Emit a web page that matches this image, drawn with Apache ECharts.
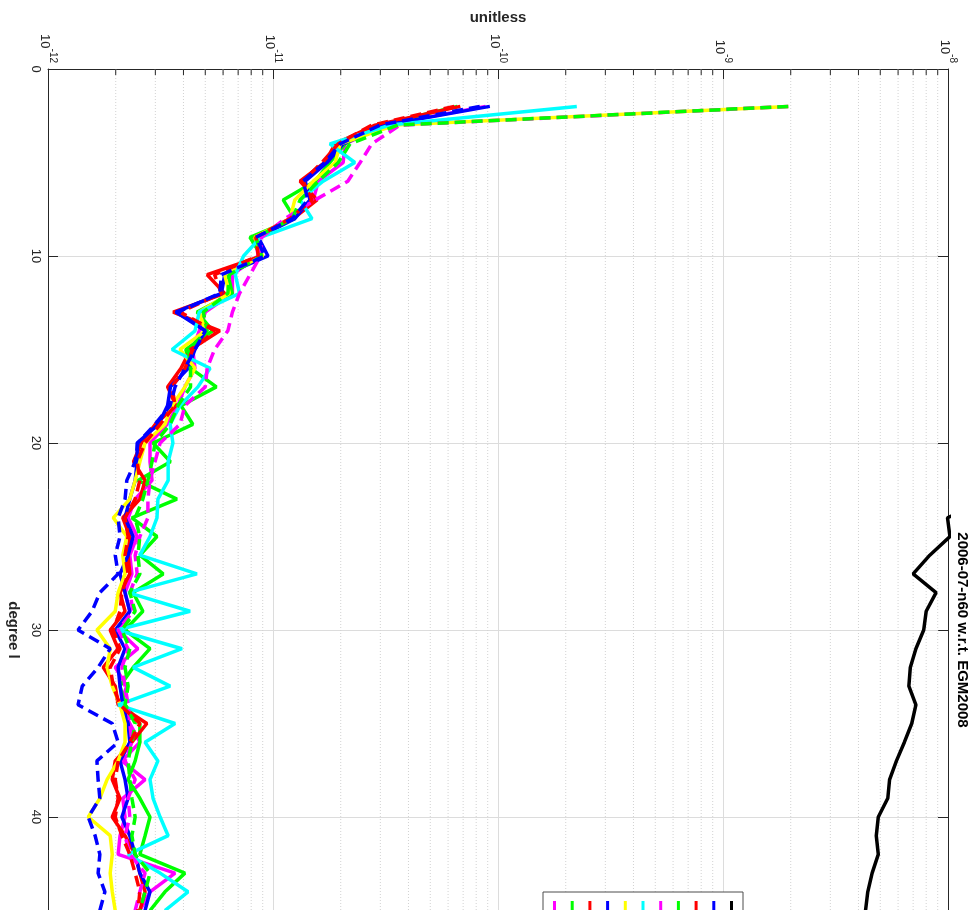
<!DOCTYPE html>
<html><head><meta charset="utf-8">
<script src="https://cdn.jsdelivr.net/npm/echarts@6/dist/echarts.min.js"></script>
<style>html,body{margin:0;padding:0;background:#fff}#c{width:969px;height:910px}</style>
</head><body><div id="c"></div>
<script>
// degree l (vertical axis after rotation)
const degrees = [2,3,4,5,6,7,8,9,10,11,12,13,14,15,16,17,18,19,20,21,22,23,24,25,26,27,28,29,30,31,32,33,34,35,36,37,38,39,40,41,42,43,44,45];

const magentaSolid = [8.8e-11,3.15e-11,2.09e-11,2.05e-11,1.59e-11,1.51e-11,1.19e-11,8.3e-12,8.6e-12,6.6e-12,6.6e-12,5.0e-12,4.7e-12,4.4e-12,4.5e-12,4.06e-12,3.78e-12,3.38e-12,2.84e-12,2.84e-12,2.9e-12,2.44e-12,2.27e-12,2.49e-12,2.31e-12,2.36e-12,2.2e-12,2.31e-12,2.05e-12,2.51e-12,1.99e-12,2.24e-12,2.09e-12,2.31e-12,2.56e-12,2.13e-12,2.7e-12,2.15e-12,2.2e-12,2.09e-12,2.05e-12,3.67e-12,2.84e-12,2.56e-12];
const greenSolid = [6.6e-11,2.99e-11,2.09e-11,1.79e-11,1.54e-11,1.11e-11,1.25e-11,7.9e-12,8.9e-12,6.3e-12,6.6e-12,4.6e-12,5.4e-12,4.1e-12,4.3e-12,5.6e-12,3.9e-12,4.4e-12,2.93e-12,3.5e-12,2.51e-12,3.74e-12,2.36e-12,3.05e-12,2.56e-12,3.25e-12,2.39e-12,2.64e-12,2.2e-12,2.84e-12,2.39e-12,2.09e-12,2.2e-12,2.56e-12,2.56e-12,2.44e-12,2.27e-12,2.56e-12,2.84e-12,2.7e-12,2.56e-12,4.06e-12,3.31e-12,2.84e-12];
const redSolid = [6.8e-11,2.84e-11,1.89e-11,1.70e-11,1.32e-11,1.57e-11,1.23e-11,8.3e-12,8.9e-12,5.1e-12,6.1e-12,3.6e-12,5.8e-12,4.3e-12,3.9e-12,3.4e-12,3.7e-12,3.0e-12,2.6e-12,2.4e-12,2.7e-12,2.56e-12,2.15e-12,2.31e-12,2.27e-12,2.31e-12,2.09e-12,2.2e-12,1.89e-12,2.05e-12,1.76e-12,1.99e-12,2.05e-12,2.75e-12,2.36e-12,1.99e-12,1.93e-12,2.09e-12,1.93e-12,2.2e-12,2.44e-12,2.56e-12,2.7e-12,2.56e-12];
const blueSolid = [9.2e-11,3.15e-11,2.05e-11,1.74e-11,1.39e-11,1.46e-11,1.25e-11,8.6e-12,9.5e-12,6.1e-12,5.9e-12,3.7e-12,5.0e-12,4.5e-12,4.2e-12,3.5e-12,3.4e-12,3.1e-12,2.49e-12,2.49e-12,2.44e-12,2.31e-12,2.2e-12,2.39e-12,2.27e-12,2.09e-12,2.2e-12,2.31e-12,1.99e-12,2.2e-12,2.05e-12,2.09e-12,2.15e-12,2.27e-12,2.31e-12,2.09e-12,2.2e-12,2.27e-12,2.13e-12,2.31e-12,2.44e-12,2.56e-12,2.84e-12,2.7e-12];
const yellowSolid = [1.95e-9,3.49e-11,1.99e-11,1.89e-11,1.51e-11,1.25e-11,1.19e-11,8.3e-12,9.0e-12,6.1e-12,6.4e-12,4.7e-12,5.0e-12,3.86e-12,4.5e-12,4.06e-12,3.56e-12,3.31e-12,2.7e-12,2.56e-12,2.44e-12,2.31e-12,1.95e-12,2.24e-12,2.15e-12,2.2e-12,2.05e-12,1.99e-12,1.65e-12,1.89e-12,1.83e-12,1.93e-12,2.09e-12,2.2e-12,2.2e-12,2.05e-12,1.83e-12,1.7e-12,1.51e-12,1.89e-12,1.93e-12,1.89e-12,1.93e-12,1.99e-12];
const cyanSolid = [2.24e-10,3.31e-11,1.79e-11,2.31e-11,1.67e-11,1.32e-11,1.49e-11,8.8e-12,7.4e-12,6.8e-12,7.1e-12,4.7e-12,4.5e-12,3.56e-12,5.25e-12,4.64e-12,3.86e-12,3.49e-12,3.59e-12,3.42e-12,3.42e-12,3.08e-12,3.05e-12,2.84e-12,2.56e-12,4.59e-12,2.27e-12,4.28e-12,2.03e-12,3.94e-12,2.39e-12,3.49e-12,2.05e-12,3.67e-12,2.7e-12,3.08e-12,2.84e-12,2.93e-12,3.15e-12,3.42e-12,2.27e-12,3.15e-12,4.19e-12,3.31e-12];
const magentaDash = [1.95e-9,3.67e-11,2.75e-11,2.44e-11,2.15e-11,1.54e-11,1.13e-11,8.9e-12,8.8e-12,7.9e-12,7.1e-12,6.6e-12,6.3e-12,5.5e-12,5.1e-12,5.0e-12,4.06e-12,3.86e-12,3.15e-12,2.99e-12,2.84e-12,2.78e-12,2.78e-12,2.56e-12,2.44e-12,2.49e-12,2.31e-12,2.39e-12,2.05e-12,2.27e-12,2.13e-12,2.2e-12,2.27e-12,2.31e-12,2.36e-12,2.2e-12,2.44e-12,2.27e-12,2.31e-12,2.2e-12,2.31e-12,2.7e-12,2.56e-12,2.44e-12];
const greenDash = [1.95e-9,3.59e-11,2.2e-11,1.95e-11,1.59e-11,1.32e-11,1.22e-11,8.4e-12,8.9e-12,6.4e-12,6.3e-12,4.9e-12,5.1e-12,4.2e-12,4.3e-12,4.3e-12,3.78e-12,3.49e-12,2.99e-12,2.9e-12,2.78e-12,2.64e-12,2.44e-12,2.56e-12,2.51e-12,2.56e-12,2.31e-12,2.44e-12,2.13e-12,2.31e-12,2.2e-12,2.27e-12,2.2e-12,2.44e-12,2.36e-12,2.27e-12,2.31e-12,2.36e-12,2.44e-12,2.36e-12,2.44e-12,2.84e-12,2.7e-12,2.56e-12];
const redDash = [6.4e-11,2.75e-11,1.95e-11,1.65e-11,1.36e-11,1.49e-11,1.19e-11,8.4e-12,8.6e-12,5.5e-12,5.9e-12,3.86e-12,5.5e-12,4.4e-12,4.06e-12,3.56e-12,3.67e-12,3.15e-12,2.7e-12,2.49e-12,2.56e-12,2.44e-12,2.2e-12,2.27e-12,2.2e-12,2.27e-12,2.13e-12,2.09e-12,1.95e-12,2.09e-12,1.89e-12,1.95e-12,2.09e-12,2.56e-12,2.31e-12,2.05e-12,1.99e-12,2.05e-12,1.99e-12,2.13e-12,2.31e-12,2.44e-12,2.56e-12,2.51e-12];
const blueDash = [8.3e-11,2.99e-11,1.99e-11,1.7e-11,1.36e-11,1.43e-11,1.22e-11,8.4e-12,9.2e-12,5.9e-12,5.8e-12,3.78e-12,5.0e-12,4.5e-12,4.06e-12,3.67e-12,3.49e-12,2.99e-12,2.51e-12,2.44e-12,2.24e-12,2.2e-12,2.05e-12,2.09e-12,1.99e-12,2.05e-12,1.7e-12,1.57e-12,1.36e-12,1.89e-12,1.67e-12,1.42e-12,1.36e-12,1.93e-12,2.05e-12,1.65e-12,1.67e-12,1.7e-12,1.51e-12,1.62e-12,1.7e-12,1.67e-12,1.79e-12,1.7e-12];

const blackDegrees = [23,24,25,26,27,28,29,30,31,32,33,34,35,36,37,38,39,40,41,42,43,44,45];
const blackRef = [1.5e-8,9.95e-9,1.02e-8,8.3e-9,7.0e-9,8.85e-9,8.0e-9,7.8e-9,7.2e-9,6.8e-9,6.7e-9,7.2e-9,6.9e-9,6.4e-9,5.9e-9,5.5e-9,5.4e-9,4.9e-9,4.8e-9,4.9e-9,4.6e-9,4.4e-9,4.3e-9];

const seriesNames = ['data1','data2','data3','data4','data5','data6','data7','data8','data9','data10','data11'];
const seriesColors = ['#ff00ff','#00ff00','#ff0000','#0000ff','#ffff00','#00ffff','#ff00ff','#00ff00','#ff0000','#0000ff','#000000'];
const xTickExponents = [-12,-11,-10,-9,-8];
const yTickValues = [0,10,20,30,40,50,60];

const DEG_MAX = 60;
const minorTicks = [];
for (let e = -12; e < -8; e++) { for (let m = 2; m <= 9; m++) minorTicks.push([m * Math.pow(10, e), 0]); }

function pairs(vals, degs) { return vals.map((v, i) => [v, degs[i]]); }

const lineSets = [magentaSolid, greenSolid, redSolid, blueSolid, yellowSolid, cyanSolid, magentaDash, greenDash, redDash, blueDash];
const series = lineSets.map((vals, i) => ({
  name: seriesNames[i],
  type: 'line',
  data: pairs(vals, degrees),
  showSymbol: false, symbol: 'none',
  color: seriesColors[i],
  lineStyle: { width: 3.5, color: seriesColors[i], type: i >= 6 ? [11, 6] : 'solid' },
  clip: true, z: 3
}));
series.push({
  name: seriesNames[10], type: 'line', data: pairs(blackRef, blackDegrees),
  symbol: 'none', color: '#000', lineStyle: { width: 3.5, color: '#000' }, clip: true, z: 3
});
series.unshift({
  type: 'custom', silent: true, z: 1, clip: false,
  data: minorTicks, encode: { x: 0, y: 1 },
  renderItem: function (params, api) {
    const v = api.value(0);
    const top = api.coord([v, 0]);
    const bot = api.coord([v, DEG_MAX]);
    return { type: 'group', children: [
      { type: 'line', shape: { x1: top[0], y1: top[1], x2: bot[0], y2: bot[1] },
        style: { stroke: '#d2d2d2', lineWidth: 1, lineDash: [1, 2] } },
      { type: 'line', shape: { x1: top[0], y1: top[1], x2: top[0], y2: top[1] + 6 },
        style: { stroke: '#262626', lineWidth: 1 } }
    ] };
  }
});

const chart = echarts.init(document.getElementById('c'), null, { renderer: 'canvas' });
chart.setOption({
  animation: false,
  backgroundColor: '#ffffff',
  grid: { left: 48, top: 69, width: 900, height: 1122, containLabel: false, outerBoundsMode: 'none' },
  xAxis: {
    type: 'log', logBase: 10, position: 'top', min: 1e-12, max: 1e-8,
    name: 'unitless', nameLocation: 'middle', nameGap: 44,
    nameTextStyle: { fontSize: 15, fontWeight: 'bold', color: '#262626', fontFamily: 'Liberation Sans' },
    axisLine: { show: true, lineStyle: { color: '#262626', width: 1 } },
    axisTick: { show: true, inside: true, length: 10, lineStyle: { color: '#262626' } },
    splitLine: { show: true, lineStyle: { color: '#dcdcdc', width: 1 } },
    axisLabel: {
      rotate: -90, margin: 6, color: '#262626', fontFamily: 'Liberation Sans',
      formatter: function (v) {
        const e = Math.round(Math.log10(v));
        return xTickExponents.indexOf(e) >= 0 ? '{a|10}{b|' + e + '}' : '';
      },
      rich: {
        a: { fontSize: 13, color: '#262626', fontFamily: 'Liberation Sans', lineHeight: 20, verticalAlign: 'bottom' },
        b: { fontSize: 10, color: '#262626', fontFamily: 'Liberation Sans', lineHeight: 20, verticalAlign: 'top' }
      }
    }
  },
  yAxis: [{
    type: 'value', min: 0, max: DEG_MAX, interval: 10, inverse: true, position: 'left',
    name: 'degree l', nameLocation: 'middle', nameGap: 26, nameRotate: -90,
    nameTextStyle: { fontSize: 15, fontWeight: 'bold', color: '#262626', fontFamily: 'Liberation Sans' },
    axisLine: { show: true, lineStyle: { color: '#262626', width: 1 } },
    axisTick: { show: true, inside: true, length: 10, lineStyle: { color: '#262626' } },
    splitLine: { show: true, lineStyle: { color: '#dcdcdc', width: 1 } },
    axisLabel: { rotate: -90, margin: 6, fontSize: 13, color: '#262626', fontFamily: 'Liberation Sans',
      formatter: function (v) { return yTickValues.indexOf(v) >= 0 ? String(v) : ''; } }
  }, {
    type: 'value', min: 0, max: DEG_MAX, interval: 10, inverse: true, position: 'right',
    name: '2006-07-n60 w.r.t. EGM2008', nameLocation: 'middle', nameGap: 7, nameRotate: -90,
    nameTextStyle: { fontSize: 15, fontWeight: 'bold', color: '#000', fontFamily: 'Liberation Sans' },
    axisLine: { show: true, lineStyle: { color: '#262626', width: 1 } },
    axisTick: { show: true, inside: true, length: 10, lineStyle: { color: '#262626' } },
    splitLine: { show: false }, axisLabel: { show: false }
  }],
  legend: {
    data: seriesNames, left: 543, top: 892, orient: 'horizontal',
    icon: 'rect', itemWidth: 3, itemHeight: 30, itemGap: 14.7,
    formatter: function () { return ''; },
    padding: [9, 10, 5, 10], borderColor: '#4d4d4d', borderWidth: 1, backgroundColor: '#ffffff',
    selectedMode: false, textStyle: { fontSize: 10 }
  },
  series: series
});
</script></body></html>
